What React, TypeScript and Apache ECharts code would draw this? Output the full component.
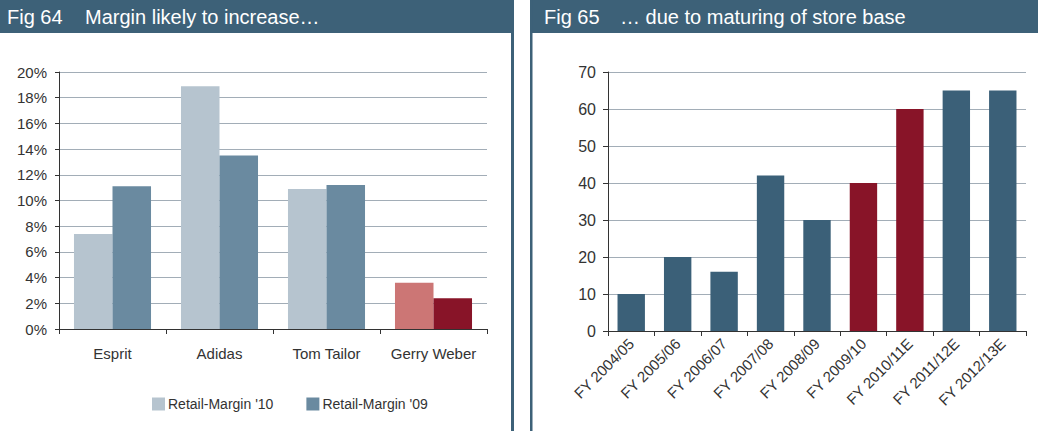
import React, { useEffect, useRef } from "react";
import * as echarts from "echarts";

const leftTitleNum = "Fig 64";
const leftTitle = "Margin likely to increase…";
const rightTitleNum = "Fig 65";
const rightTitle = "… due to maturing of store base";

const brands = ["Esprit", "Adidas", "Tom Tailor", "Gerry Weber"];
const margin10 = [7.4, 18.9, 10.9, 3.6];
const margin09 = [11.1, 13.5, 11.2, 2.4];
const highlightBrand = "Gerry Weber";
const seriesNames = ["Retail-Margin '10", "Retail-Margin '09"];

const years = [
  "FY 2004/05",
  "FY 2005/06",
  "FY 2006/07",
  "FY 2007/08",
  "FY 2008/09",
  "FY 2009/10",
  "FY 2010/11E",
  "FY 2011/12E",
  "FY 2012/13E",
];
const stores = [10, 20, 16, 42, 30, 40, 60, 65, 65];
const highlightYears = ["FY 2009/10", "FY 2010/11E"];

const FONT = "'Liberation Sans', Arial, sans-serif";
const HEADER = "#3d6178";
const TEXT = "#333333";
const GRIDC = "#a2adb7";
const LIGHT = "#b6c4cf";
const MID = "#6a8aa0";
const PINK = "#cc7675";
const DRED = "#881428";
const BLUE = "#3b6078";

export default function App() {
  const ref = useRef<HTMLDivElement>(null);
  useEffect(() => {
    if (!ref.current) return;
    const chart = echarts.init(ref.current, undefined, { renderer: "svg" });
    const axisLabelBase = { color: TEXT, fontFamily: FONT, fontSize: 15 };
    chart.setOption({
      animation: false,
      backgroundColor: "#ffffff",
      textStyle: { fontFamily: FONT },
      legend: {
        left: 147,
        top: 392,
        itemWidth: 13,
        itemHeight: 13,
        itemGap: 33,
        icon: "rect",
        data: seriesNames,
        textStyle: { color: TEXT, fontFamily: FONT, fontSize: 14, padding: [0, 0, 0, -2] },
      },
      graphic: [
        { type: "rect", shape: { x: 0, y: 0, width: 514, height: 33 }, style: { fill: HEADER } },
        { type: "rect", shape: { x: 511, y: 0, width: 3, height: 431 }, style: { fill: HEADER } },
        { type: "rect", shape: { x: 530, y: 0, width: 508, height: 33 }, style: { fill: HEADER } },
        { type: "rect", shape: { x: 530, y: 0, width: 2.5, height: 431 }, style: { fill: HEADER } },
        {
          type: "text",
          x: 7,
          y: 17,
          style: { text: leftTitleNum, fill: "#fff", font: `20px ${FONT}`, verticalAlign: "middle" },
        },
        {
          type: "text",
          x: 85,
          y: 17,
          style: { text: leftTitle, fill: "#fff", font: `20px ${FONT}`, verticalAlign: "middle" },
        },
        {
          type: "text",
          x: 544,
          y: 17,
          style: { text: rightTitleNum, fill: "#fff", font: `20px ${FONT}`, verticalAlign: "middle" },
        },
        {
          type: "text",
          x: 620,
          y: 17,
          style: { text: rightTitle, fill: "#fff", font: `20px ${FONT}`, verticalAlign: "middle" },
        },
      ],
      grid: [
        { left: 59, top: 72, width: 428, height: 257, containLabel: false },
        { left: 608, top: 72, width: 418, height: 259, containLabel: false },
      ],
      xAxis: [
        {
          type: "category",
          gridIndex: 0,
          data: brands,
          axisLine: { lineStyle: { color: TEXT, width: 1 } },
          axisTick: { show: true, length: 5, lineStyle: { color: TEXT } },
          axisLabel: { ...axisLabelBase, margin: 17, interval: 0 },
        },
        {
          type: "category",
          gridIndex: 1,
          data: years,
          axisLine: { lineStyle: { color: TEXT, width: 1 } },
          axisTick: { show: true, length: 5, lineStyle: { color: TEXT } },
          axisLabel: { ...axisLabelBase, rotate: 45, margin: 10, interval: 0 },
        },
      ],
      yAxis: [
        {
          type: "value",
          gridIndex: 0,
          min: 0,
          max: 20,
          interval: 2,
          axisLine: { show: true, lineStyle: { color: TEXT } },
          axisTick: { show: true, length: 4, lineStyle: { color: TEXT } },
          axisLabel: { ...axisLabelBase, margin: 12, formatter: "{value}%" },
          splitLine: { lineStyle: { color: GRIDC, width: 1 } },
        },
        {
          type: "value",
          gridIndex: 1,
          min: 0,
          max: 70,
          interval: 10,
          axisLine: { show: true, lineStyle: { color: TEXT } },
          axisTick: { show: true, length: 5, lineStyle: { color: TEXT } },
          axisLabel: { ...axisLabelBase, fontSize: 16, margin: 12 },
          splitLine: { lineStyle: { color: GRIDC, width: 1 } },
        },
      ],
      series: [
        {
          name: seriesNames[0],
          type: "bar",
          xAxisIndex: 0,
          yAxisIndex: 0,
          barGap: "0%",
          barCategoryGap: "28%",
          itemStyle: { color: LIGHT },
          data: margin10.map((v, i) =>
            brands[i] === highlightBrand ? { value: v, itemStyle: { color: PINK } } : v
          ),
        },
        {
          name: seriesNames[1],
          type: "bar",
          xAxisIndex: 0,
          yAxisIndex: 0,
          barGap: "0%",
          barCategoryGap: "28%",
          itemStyle: { color: MID },
          data: margin09.map((v, i) =>
            brands[i] === highlightBrand ? { value: v, itemStyle: { color: DRED } } : v
          ),
        },
        {
          name: "Stores",
          type: "bar",
          xAxisIndex: 1,
          yAxisIndex: 1,
          barCategoryGap: "41%",
          itemStyle: { color: BLUE },
          data: stores.map((v, i) =>
            highlightYears.includes(years[i]) ? { value: v, itemStyle: { color: DRED } } : v
          ),
        },
      ],
    });
    return () => chart.dispose();
  }, []);
  return (
    <div
      ref={ref}
      style={{ position: "fixed", left: 0, top: 0, width: 1038, height: 431, background: "#fff" }}
    />
  );
}
